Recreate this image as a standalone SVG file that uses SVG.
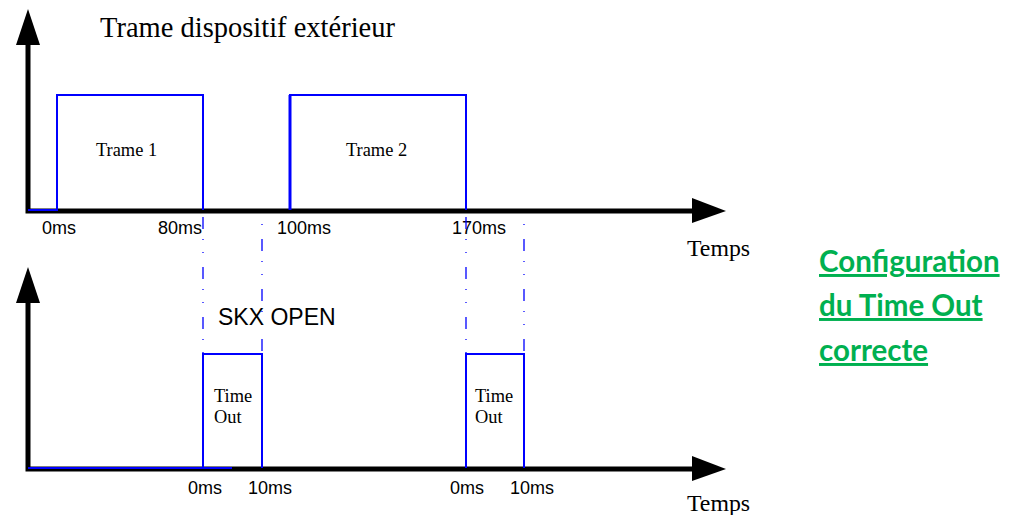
<svg xmlns="http://www.w3.org/2000/svg" width="1013" height="515" viewBox="0 0 1013 515">
  <style>
    .axis { stroke: #000; stroke-width: 5; fill: none; }
    .sig { stroke: #0000ff; stroke-width: 2; fill: none; }
    .guide { stroke: #0000ff; stroke-width: 1.3; fill: none; stroke-dasharray: 12 10 1 12 1 14; }
    .serif { font-family: "Liberation Serif", "Times New Roman", serif; fill: #000; }
    .sans { font-family: "Liberation Sans", Arial, sans-serif; fill: #000; }
    .tick { font-size: 18px; }
    .lbl { font-size: 18.4px; }
    .note { font-family: Lato, "Open Sans", sans-serif; font-weight: bold; font-size: 29.5px; fill: #00b050; text-decoration: underline; }
  </style>

  <!-- upper chart: external device frames -->
  <g id="top-axes">
    <path d="M28,45 L28,211 L692,211" class="axis"/>
    <path d="M16,45 L40,45 L28,9 Z" fill="#000"/>
    <path d="M692,198 L692,223 L726,211 Z" fill="#000"/>
  </g>
  <g id="frame-1">
    <path d="M28,210 L57,210 L57,95 L203,95 L203,210" class="sig"/>
    <text x="96" y="156" class="serif lbl">Trame 1</text>
  </g>
  <g id="frame-2">
    <path d="M290,210 L290,95 L466,95 L466,210" class="sig"/>
    <line x1="290" y1="95" x2="290" y2="210" stroke="#0000ff" stroke-width="3"/>
    <text x="346" y="156" class="serif lbl">Trame 2</text>
  </g>
  <g id="top-labels">
    <text x="100" y="37" class="serif" font-size="28.5">Trame dispositif extérieur</text>
    <text x="42" y="234" class="sans tick">0ms</text>
    <text x="158" y="234" class="sans tick">80ms</text>
    <text x="277" y="234" class="sans tick">100ms</text>
    <text x="452" y="234" class="sans tick">170ms</text>
    <text x="687" y="256" class="serif" font-size="23.8">Temps</text>
  </g>

  <!-- guides linking frame edges to timeout windows -->
  <g id="connectors">
    <line x1="203" y1="213" x2="203" y2="354" class="guide" stroke-dashoffset="-4"/>
    <line x1="262" y1="213" x2="262" y2="354" class="guide" stroke-dashoffset="24"/>
    <line x1="466" y1="213" x2="466" y2="354" class="guide" stroke-dashoffset="-4"/>
    <line x1="524" y1="213" x2="524" y2="354" class="guide" stroke-dashoffset="24"/>
  </g>

  <!-- lower chart: timeout windows -->
  <g id="bottom-axes">
    <path d="M28,303 L28,469 L692,469" class="axis"/>
    <path d="M16,303 L40,303 L28,267 Z" fill="#000"/>
    <path d="M692,456 L692,481 L726,469 Z" fill="#000"/>
    <line x1="28" y1="468" x2="232" y2="468" stroke="#0000ff" stroke-width="2"/>
  </g>
  <g id="timeout-1">
    <path d="M203,468 L203,354 L262,354 L262,468" class="sig"/>
    <text x="214" y="402" class="serif lbl">Time</text>
    <text x="214" y="423" class="serif lbl">Out</text>
  </g>
  <g id="timeout-2">
    <path d="M466,468 L466,354 L524,354 L524,468" class="sig"/>
    <text x="475" y="402" class="serif lbl">Time</text>
    <text x="475" y="423" class="serif lbl">Out</text>
  </g>
  <g id="bottom-labels">
    <text x="218" y="325" class="sans" font-size="23">SKX OPEN</text>
    <text x="188" y="494" class="sans tick">0ms</text>
    <text x="248" y="494" class="sans tick">10ms</text>
    <text x="450" y="494" class="sans tick">0ms</text>
    <text x="510" y="494" class="sans tick">10ms</text>
    <text x="687" y="511" class="serif" font-size="23.8">Temps</text>
  </g>

  <g id="status-note">
    <text x="819" y="272" class="note">Configuration</text>
    <text x="819" y="316" class="note">du Time Out</text>
    <text x="819" y="361" class="note">correcte</text>
  </g>
</svg>
